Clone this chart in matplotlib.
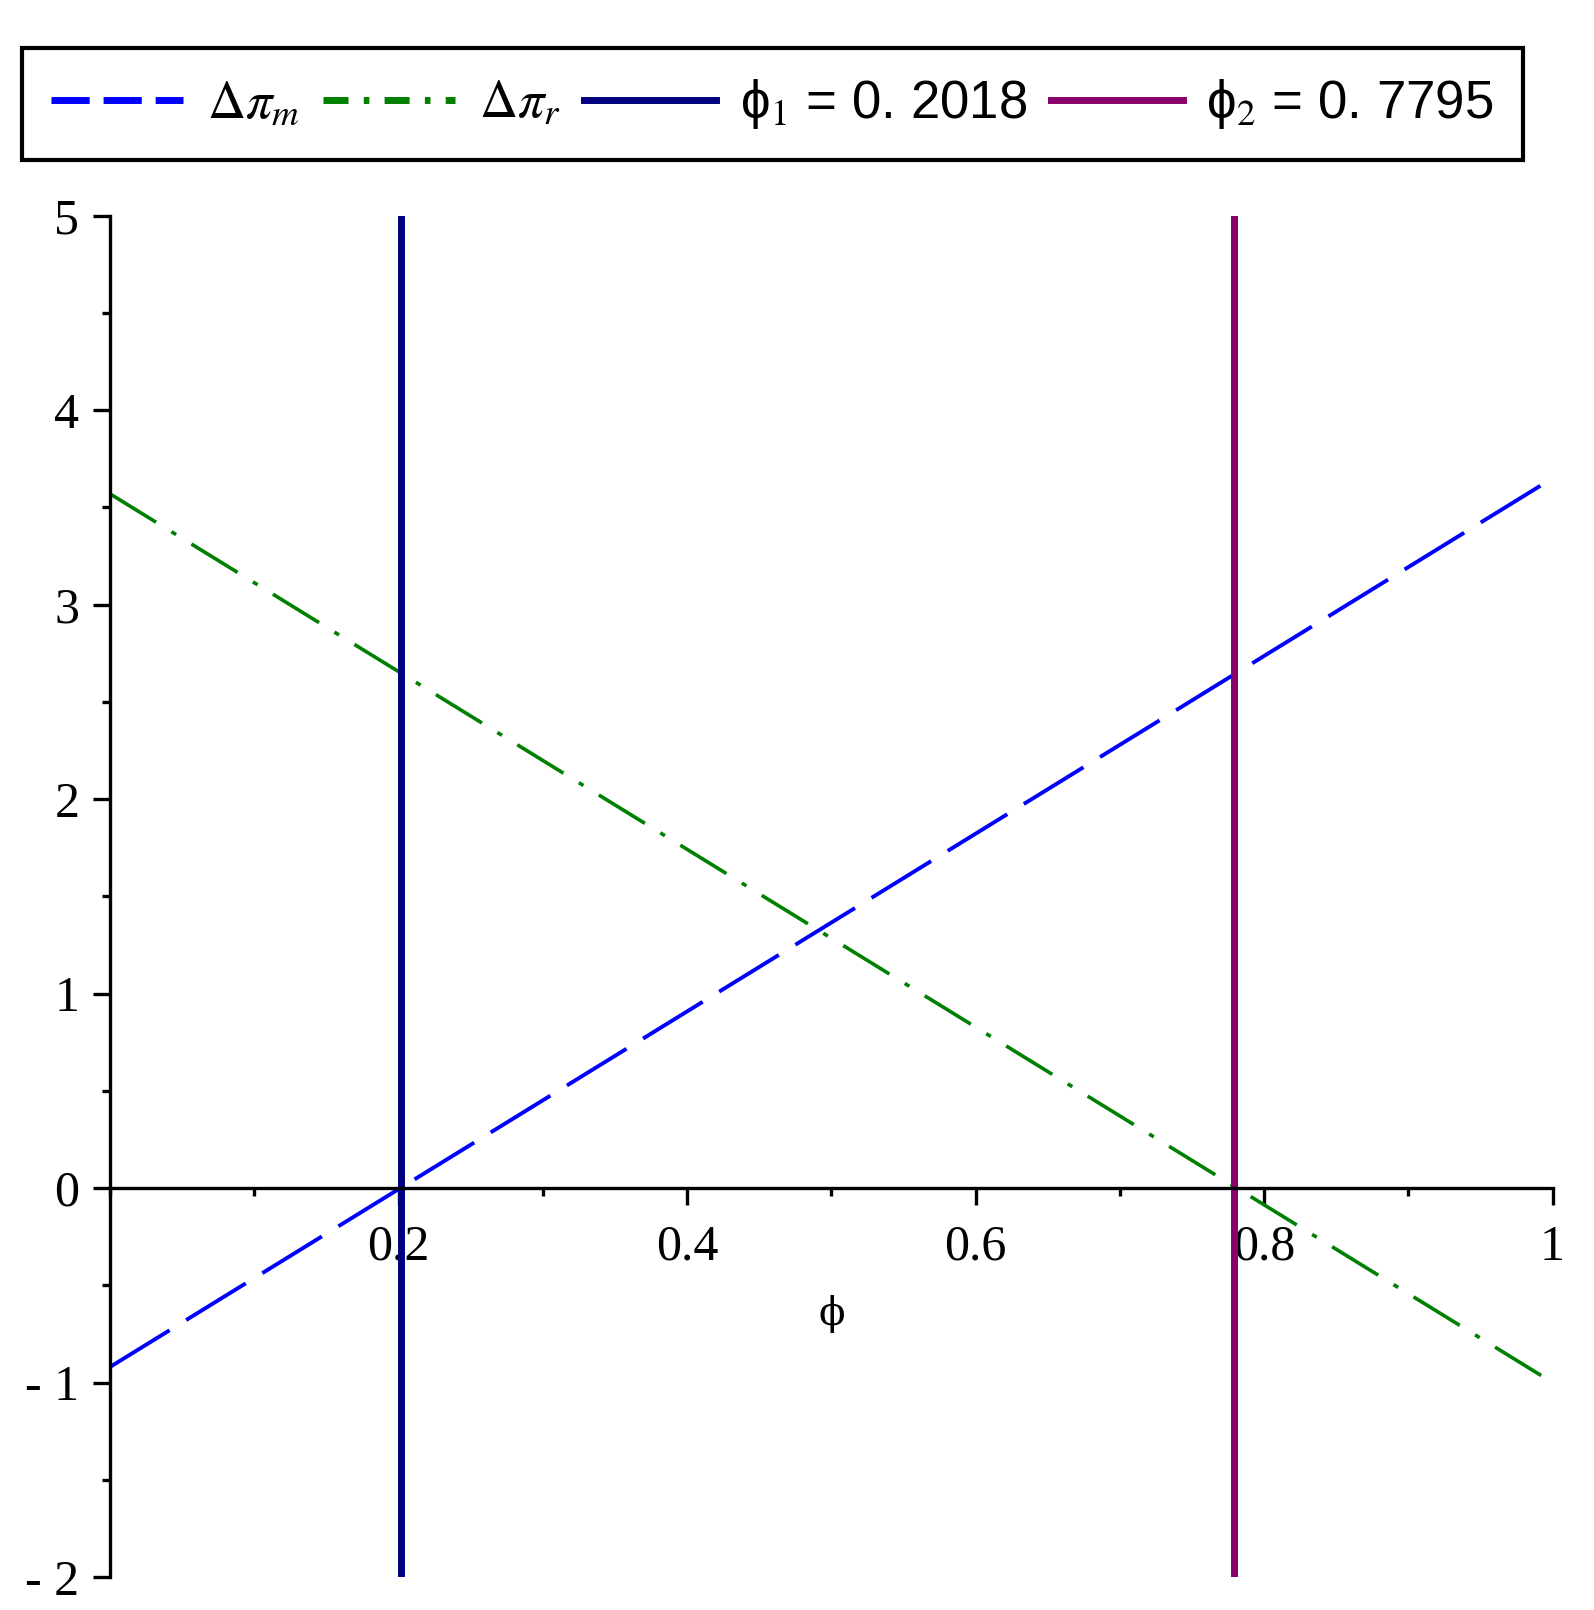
import numpy as np
import matplotlib.pyplot as plt
from matplotlib.lines import Line2D
from matplotlib.ticker import MultipleLocator

# data (both payoff differences are straight lines)
phi = [0.0, 1.0]
dpi_m = [-0.92, 3.65]
dpi_r = [3.57, -1.0]
phi_1 = 0.2018
phi_2 = 0.7795
y_range = [-2, 5]

x_ticks = [0.2, 0.4, 0.6, 0.8, 1.0]
x_ticklabels = ["0.2", "0.4", "0.6", "0.8", "1"]
y_ticks = [-2, -1, 0, 1, 2, 3, 4, 5]
y_ticklabels = ["- 2", "- 1", "0", "1", "2", "3", "4", "5"]

labels = [r"$\Delta\pi_{m}$", r"$\Delta\pi_{r}$",
          r"ϕ$_1$ = 0. 2018", r"ϕ$_2$ = 0. 7795"]

BLUE = "#0000ff"
GREEN = "#008000"
NAVY = "#000080"
PURPLE = "#880069"


def main():
    plt.rcParams["mathtext.fontset"] = "stix"
    plt.rcParams["font.family"] = ["Liberation Serif", "DejaVu Serif"]

    fig = plt.figure(figsize=(15.94, 16.10), dpi=100)
    ax = fig.add_axes([0.069, 0.0205, 0.905, 0.8455])

    ax.plot(phi, dpi_m, color=BLUE, lw=2.8, dashes=(18, 5), solid_capstyle="butt")
    ax.plot(phi, dpi_r, color=GREEN, lw=2.6, dashes=(15, 5, 1.5, 5),
            solid_capstyle="butt")
    ax.plot([phi_1, phi_1], y_range, color=NAVY, lw=5)
    ax.plot([phi_2, phi_2], y_range, color=PURPLE, lw=5)

    ax.set_xlim(0, 1)
    ax.set_ylim(y_range[0], y_range[1])

    # Maple-style axes crossing at the origin
    ax.spines["top"].set_visible(False)
    ax.spines["right"].set_visible(False)
    ax.spines["bottom"].set_position(("data", 0))
    ax.spines["bottom"].set_linewidth(2.4)
    ax.spines["left"].set_linewidth(2.4)

    ax.set_xticks(x_ticks)
    ax.set_xticklabels(x_ticklabels)
    ax.set_yticks(y_ticks)
    ax.set_yticklabels(y_ticklabels)
    ax.xaxis.set_minor_locator(MultipleLocator(0.1))
    ax.yaxis.set_minor_locator(MultipleLocator(0.5))
    ax.tick_params(which="major", direction="out", length=12, width=2.4,
                   labelsize=36, pad=10)
    ax.tick_params(which="minor", direction="out", length=6, width=2.4)
    ax.tick_params(axis="x", pad=14)

    ax.text(0.5, -0.65, "ϕ", fontsize=28, ha="center", va="center",
            family=["DejaVu Serif"])

    handles = [
        Line2D([], [], color=BLUE, lw=5, dashes=(5.5, 2)),
        Line2D([], [], color=GREEN, lw=5, dashes=(3.6, 2.2, 0.8, 2.2)),
        Line2D([], [], color=NAVY, lw=5),
        Line2D([], [], color=PURPLE, lw=5),
    ]
    leg = fig.legend(handles, labels, loc="center", ncol=4,
                     bbox_to_anchor=(0.4845, 1 - 104 / 1610),
                     handlelength=2.5, handletextpad=0.45,
                     columnspacing=0.45, borderpad=0.55, fancybox=False,
                     framealpha=1, edgecolor="black",
                     prop={"family": ["Liberation Sans", "DejaVu Sans"], "size": 38})
    leg.get_frame().set_linewidth(3)

    fig.savefig("out.png", dpi=100)


main()
